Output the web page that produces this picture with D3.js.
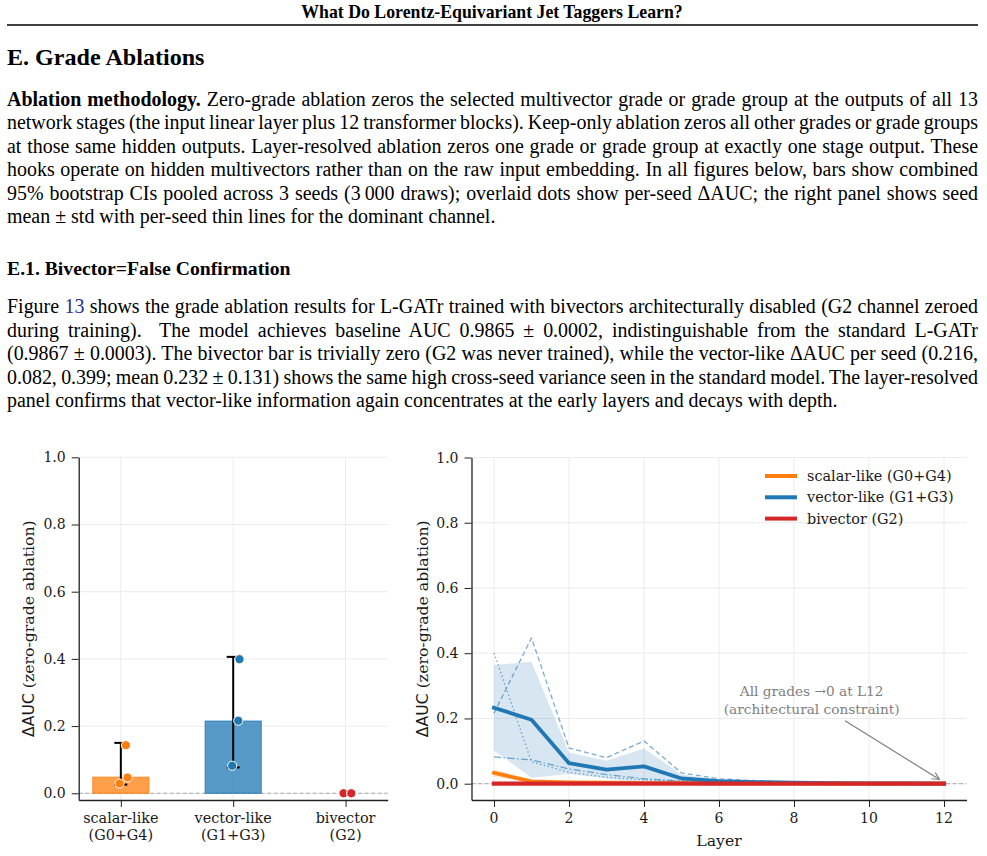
<!DOCTYPE html>
<html>
<head>
<meta charset="utf-8">
<script src="https://cdn.jsdelivr.net/npm/d3@7"></script>
<style>
  body { margin: 0; background: #fff; }
  svg { display: block; }
  text { white-space: pre; }
</style>
</head>
<body>
<script>
// ---- left panel: combined ablation bars ----
var groups = ["scalar-like", "vector-like", "bivector"];
var groupTags = ["(G0+G4)", "(G1+G3)", "(G2)"];
var groupColors = ["#ff7f0e", "#1f77b4", "#d62728"];
var barValues = [0.048, 0.215, 0.0];
var ciLow = [0.026, 0.077, 0.0];
var ciHigh = [0.150, 0.406, 0.0];
var seedDots = [[0.143, 0.047, 0.029], [0.399, 0.216, 0.082], [0.0, 0.0, 0.0]];
var seedJitter = [[0.045, 0.060, -0.012], [0.056, 0.045, -0.009], [-0.018, 0.051, 0.051]];

// ---- right panel: layer-resolved ablation ----
var layers = [0, 1, 2, 3, 4, 5, 6, 7, 8, 9, 10, 11, 12];
var scalarMean = [0.033, 0.007, 0.004, 0.003, 0.002, 0.002, 0.001, 0.001, 0.001, 0.0005, 0.0005, 0.0003, 0];
var scalarLo = [0.021, 0.003, 0.002, 0.001, 0.001, 0.001, 0.0005, 0.0005, 0.0005, 0.0002, 0.0002, 0.0001, 0];
var scalarHi = [0.045, 0.011, 0.006, 0.005, 0.003, 0.003, 0.0015, 0.0015, 0.0015, 0.0008, 0.0008, 0.0005, 0];
var vectorMean = [0.233, 0.196, 0.063, 0.043, 0.053, 0.016, 0.008, 0.005, 0.003, 0.002, 0.001, 0.001, 0];
var vectorLo = [0.102, 0.018, 0.030, 0.016, -0.002, 0.004, 0.003, 0.002, 0.001, 0.001, 0.0005, 0.0005, 0];
var vectorHi = [0.364, 0.374, 0.096, 0.070, 0.108, 0.028, 0.013, 0.008, 0.005, 0.003, 0.0015, 0.0015, 0];
var vectorSeedA = [0.216, 0.447, 0.109, 0.080, 0.131, 0.033, 0.015, 0.009, 0.005, 0.003, 0.002, 0.001, 0];
var vectorSeedB = [0.401, 0.067, 0.035, 0.020, 0.012, 0.008, 0.005, 0.003, 0.002, 0.001, 0.001, 0.0005, 0];
var vectorSeedC = [0.082, 0.073, 0.045, 0.028, 0.015, 0.008, 0.005, 0.003, 0.002, 0.001, 0.001, 0.0005, 0];
var bivectorMean = [0, 0, 0, 0, 0, 0, 0, 0, 0, 0, 0, 0, 0];
var yTicks = [0, 0.2, 0.4, 0.6, 0.8, 1.0];
var layerTicks = [0, 2, 4, 6, 8, 10, 12];
var legendLabels = ["scalar-like (G0+G4)", "vector-like (G1+G3)", "bivector (G2)"];

var svgWidth = 987;
var svgHeight = 856;
var serif = "'Liberation Serif', 'Times New Roman', serif";
var plotFont = "'DejaVu Serif', serif";
var ink = "#1a1a1a";

var svg = d3.select("body")
  .append("svg")
  .attr("width", svgWidth)
  .attr("height", svgHeight);

// ---------- page text ----------
var textLeft = 7, textWidth = 971;

function textLine(y, parts, justify, size) {
  var t = svg.append("text")
    .attr("x", textLeft)
    .attr("y", y)
    .style("font-family", serif)
    .style("font-size", size + "px")
    .attr("fill", "#000");
  parts.forEach(function(p) {
    t.append("tspan")
      .text(p.t)
      .attr("font-weight", p.b ? "bold" : null)
      .attr("fill", p.c || null);
  });
  if (justify) {
    var natural = t.node().getComputedTextLength();
    var str = parts.map(function(p) { return p.t; }).join("");
    var n = (str.match(/ /g) || []).length;
    if (n > 0) t.style("word-spacing", ((textWidth - natural) / n) + "px");
  }
  return t;
}

svg.append("text")
  .attr("x", 492).attr("y", 18.3)
  .attr("text-anchor", "middle")
  .style("font-family", serif).style("font-size", "17.8px").style("font-weight", "bold")
  .text("What Do Lorentz-Equivariant Jet Taggers Learn?");
svg.append("line")
  .attr("x1", 7).attr("x2", 978).attr("y1", 25).attr("y2", 25)
  .attr("stroke", "#000").attr("stroke-width", 1.6);

textLine(65, [{t: "E. Grade Ablations", b: true}], false, 24.1);

var para1 = [
  [{t: "Ablation methodology.", b: true}, {t: " Zero-grade ablation zeros the selected multivector grade or grade group at the outputs of all 13"}],
  [{t: "network stages (the input linear layer plus 12 transformer blocks). Keep-only ablation zeros all other grades or grade groups"}],
  [{t: "at those same hidden outputs. Layer-resolved ablation zeros one grade or grade group at exactly one stage output. These"}],
  [{t: "hooks operate on hidden multivectors rather than on the raw input embedding. In all figures below, bars show combined"}],
  [{t: "95% bootstrap CIs pooled across 3 seeds (3\u2009000 draws); overlaid dots show per-seed \u0394AUC; the right panel shows seed"}],
  [{t: "mean \u00b1 std with per-seed thin lines for the dominant channel."}]
];
para1.forEach(function(parts, i) {
  textLine(106 + i * 23.45, parts, i < para1.length - 1, 19.95);
});

textLine(275, [{t: "E.1. Bivector=False Confirmation", b: true}], false, 19.7);

var para2 = [
  [{t: "Figure "}, {t: "13", c: "#1f2f8f"}, {t: " shows the grade ablation results for L-GATr trained with bivectors architecturally disabled (G2 channel zeroed"}],
  [{t: "during training).  The model achieves baseline AUC 0.9865 \u00b1 0.0002, indistinguishable from the standard L-GATr"}],
  [{t: "(0.9867 \u00b1 0.0003). The bivector bar is trivially zero (G2 was never trained), while the vector-like \u0394AUC per seed (0.216,"}],
  [{t: "0.082, 0.399; mean 0.232 \u00b1 0.131) shows the same high cross-seed variance seen in the standard model. The layer-resolved"}],
  [{t: "panel confirms that vector-like information again concentrates at the early layers and decays with depth."}]
];
para2.forEach(function(parts, i) {
  textLine(313 + i * 23.5, parts, i < para2.length - 1, 19.95);
});

// ---------- shared axis helpers ----------
function styleAxis(g) {
  g.select(".domain").attr("stroke", "#222").attr("stroke-width", 1.3);
  g.selectAll(".tick line").attr("stroke", "#222").attr("stroke-width", 1);
  g.selectAll(".tick text").remove();
}

function plotText(x, y, str, size, anchor, color) {
  return svg.append("text")
    .attr("x", x).attr("y", y)
    .attr("text-anchor", anchor || "middle")
    .style("font-family", plotFont).style("font-size", size + "px")
    .attr("fill", color || ink)
    .text(str);
}

function yTickLabels(scale, x0) {
  yTicks.forEach(function(v) {
    plotText(x0 - 13, scale(v) + 5, d3.format(".1f")(v), 14, "end");
  });
}

function yLabel(x, yMid) {
  var t = svg.append("text")
    .attr("transform", "translate(" + x + "," + yMid + ") rotate(-90)")
    .attr("text-anchor", "middle")
    .style("font-size", "15.7px").attr("fill", ink);
  t.append("tspan").style("font-family", "'DejaVu Sans', sans-serif").text("\u0394AUC");
  t.append("tspan").style("font-family", plotFont).text(" (zero-grade ablation)");
}

// ---------- left panel ----------
var xL = d3.scaleLinear().domain([-0.375, 2.375]).range([78.7, 387.7]);
var yL = d3.scaleLinear().domain([-0.02, 1.0]).range([800, 457.3]);

var left = svg.append("g");

// grid
left.selectAll(".hgrid").data(yTicks).enter().append("line")
  .attr("x1", xL.range()[0]).attr("x2", xL.range()[1])
  .attr("y1", function(d) { return yL(d); }).attr("y2", function(d) { return yL(d); })
  .attr("stroke", "#ebebeb").attr("stroke-width", 1);
left.selectAll(".vgrid").data(groups).enter().append("line")
  .attr("x1", function(d, i) { return xL(i); }).attr("x2", function(d, i) { return xL(i); })
  .attr("y1", yL.range()[0]).attr("y2", yL.range()[1])
  .attr("stroke", "#ebebeb").attr("stroke-width", 1);

// zero reference
left.append("line")
  .attr("x1", xL.range()[0]).attr("x2", xL.range()[1])
  .attr("y1", yL(0)).attr("y2", yL(0))
  .attr("stroke", "#aaa").attr("stroke-width", 1).attr("stroke-dasharray", "4,2.5");

// bars
left.selectAll(".bar").data(barValues).enter().append("rect")
  .attr("x", function(d, i) { return xL(i - 0.25); })
  .attr("width", xL(0.25) - xL(-0.25))
  .attr("y", function(d) { return yL(d); })
  .attr("height", function(d) { return yL(0) - yL(d); })
  .attr("fill", function(d, i) { return groupColors[i]; })
  .attr("fill-opacity", 0.75)
  .attr("stroke", function(d, i) { return groupColors[i]; })
  .attr("stroke-opacity", 0.8)
  .attr("stroke-width", 1);

// error bars
var cap = 6.5;
groups.forEach(function(g, i) {
  var cx = xL(i);
  left.append("line").attr("x1", cx).attr("x2", cx)
    .attr("y1", yL(ciLow[i])).attr("y2", yL(ciHigh[i]))
    .attr("stroke", "#000").attr("stroke-width", 2);
  [ciLow[i], ciHigh[i]].forEach(function(v) {
    left.append("line").attr("x1", cx - cap).attr("x2", cx + cap)
      .attr("y1", yL(v)).attr("y2", yL(v))
      .attr("stroke", "#000").attr("stroke-width", 2);
  });
});

// per-seed dots
groups.forEach(function(g, i) {
  left.selectAll(".dot" + i).data(seedDots[i]).enter().append("circle")
    .attr("cx", function(d, j) { return xL(i + seedJitter[i][j]); })
    .attr("cy", function(d) { return yL(d); })
    .attr("r", 4.6)
    .attr("fill", groupColors[i])
    .attr("stroke", "#fff").attr("stroke-width", 1);
});

var yAxisL = svg.append("g")
  .attr("transform", "translate(" + xL.range()[0] + ",0)")
  .call(d3.axisLeft(yL).tickValues(yTicks).tickSize(7).tickSizeOuter(0));
styleAxis(yAxisL);
yTickLabels(yL, xL.range()[0]);

var xAxisL = svg.append("g")
  .attr("transform", "translate(0," + yL.range()[0] + ")")
  .call(d3.axisBottom(xL).tickValues([0, 1, 2]).tickSize(7).tickSizeOuter(0));
styleAxis(xAxisL);
groups.forEach(function(g, i) {
  plotText(xL(i), 823.3, g, 14.4);
  plotText(xL(i), 839.5, groupTags[i], 14.4);
});
yLabel(34, (yL.range()[0] + yL.range()[1]) / 2);

// ---------- right panel ----------
var xR = d3.scaleLinear().domain([-0.6, 12.6]).range([471.5, 966.5]);
var yR = d3.scaleLinear().domain([-0.05, 1.0]).range([800, 457.5]);

var right = svg.append("g");

right.selectAll(".hgrid").data(yTicks).enter().append("line")
  .attr("x1", xR.range()[0]).attr("x2", xR.range()[1])
  .attr("y1", function(d) { return yR(d); }).attr("y2", function(d) { return yR(d); })
  .attr("stroke", "#ebebeb").attr("stroke-width", 1);
right.selectAll(".vgrid").data(layerTicks).enter().append("line")
  .attr("x1", function(d) { return xR(d); }).attr("x2", function(d) { return xR(d); })
  .attr("y1", yR.range()[0]).attr("y2", yR.range()[1])
  .attr("stroke", "#ebebeb").attr("stroke-width", 1);

right.append("line")
  .attr("x1", xR.range()[0]).attr("x2", xR.range()[1])
  .attr("y1", yR(0)).attr("y2", yR(0))
  .attr("stroke", "#aaa").attr("stroke-width", 1).attr("stroke-dasharray", "4,2.5");

function band(lo, hi, color, op) {
  var area = d3.area()
    .x(function(d, i) { return xR(layers[i]); })
    .y0(function(d, i) { return yR(lo[i]); })
    .y1(function(d, i) { return yR(hi[i]); });
  right.append("path").datum(layers).attr("d", area)
    .attr("fill", color).attr("fill-opacity", op).attr("stroke", "none");
}
function series(vals, color, width, dash, op, capStyle) {
  var line = d3.line()
    .x(function(d, i) { return xR(layers[i]); })
    .y(function(d) { return yR(d); });
  right.append("path").datum(vals).attr("d", line)
    .attr("fill", "none").attr("stroke", color).attr("stroke-width", width)
    .attr("stroke-opacity", op)
    .attr("stroke-dasharray", dash)
    .attr("stroke-linecap", capStyle || "butt")
    .attr("stroke-linejoin", "round");
}

band(vectorLo, vectorHi, "#1f77b4", 0.18);
band(scalarLo, scalarHi, "#ff7f0e", 0.18);
series(vectorSeedA, "#1f77b4", 1.3, "5,3", 0.6);
series(vectorSeedB, "#1f77b4", 1.3, "1.5,2.5", 0.6);
series(vectorSeedC, "#1f77b4", 1.3, "7,2.5,1.5,2.5", 0.6);
series(scalarMean, "#ff7f0e", 3.8, null, 1, "square");
series(vectorMean, "#1f77b4", 3.8, null, 1, "square");
series(bivectorMean, "#d62728", 4.2, null, 1, "square");

var yAxisR = svg.append("g")
  .attr("transform", "translate(" + xR.range()[0] + ",0)")
  .call(d3.axisLeft(yR).tickValues(yTicks).tickSize(7).tickSizeOuter(0));
styleAxis(yAxisR);
yTickLabels(yR, xR.range()[0]);

var xAxisR = svg.append("g")
  .attr("transform", "translate(0," + yR.range()[0] + ")")
  .call(d3.axisBottom(xR).tickValues(layerTicks).tickSize(7).tickSizeOuter(0));
styleAxis(xAxisR);
layerTicks.forEach(function(v) {
  plotText(xR(v), 823, d3.format("d")(v), 14);
});

plotText((xR.range()[0] + xR.range()[1]) / 2, 846, "Layer", 15.7);
yLabel(428, (yR.range()[0] + yR.range()[1]) / 2);

// legend
legendLabels.forEach(function(lbl, i) {
  var ly = 476 + i * 21.3;
  svg.append("line").attr("x1", 765).attr("x2", 797).attr("y1", ly).attr("y2", ly)
    .attr("stroke", groupColors[i]).attr("stroke-width", 4);
  plotText(807, ly + 5, lbl, 14.4, "start");
});

// annotation
var defs = svg.append("defs");
defs.append("marker").attr("id", "arrowhead")
  .attr("viewBox", "0 0 10 10").attr("refX", 9).attr("refY", 5)
  .attr("markerWidth", 9).attr("markerHeight", 9).attr("markerUnits", "userSpaceOnUse")
  .attr("orient", "auto")
  .append("path").attr("d", "M1,1 L9,5 L1,9")
  .attr("fill", "none").attr("stroke", "#808080").attr("stroke-width", 1.2);

var noteX = 8.47, noteY = 0.27;
plotText(xR(noteX), yR(noteY), "All grades \u21920 at L12", 13.7, "middle", "#808080");
plotText(xR(noteX), yR(noteY) + 18.5, "(architectural constraint)", 13.7, "middle", "#808080");
svg.append("line")
  .attr("x1", xR(9.36)).attr("y1", yR(0.193))
  .attr("x2", xR(11.88)).attr("y2", yR(0.013))
  .attr("stroke", "#808080").attr("stroke-width", 1.2)
  .attr("marker-end", "url(#arrowhead)");
</script>
</body>
</html>
